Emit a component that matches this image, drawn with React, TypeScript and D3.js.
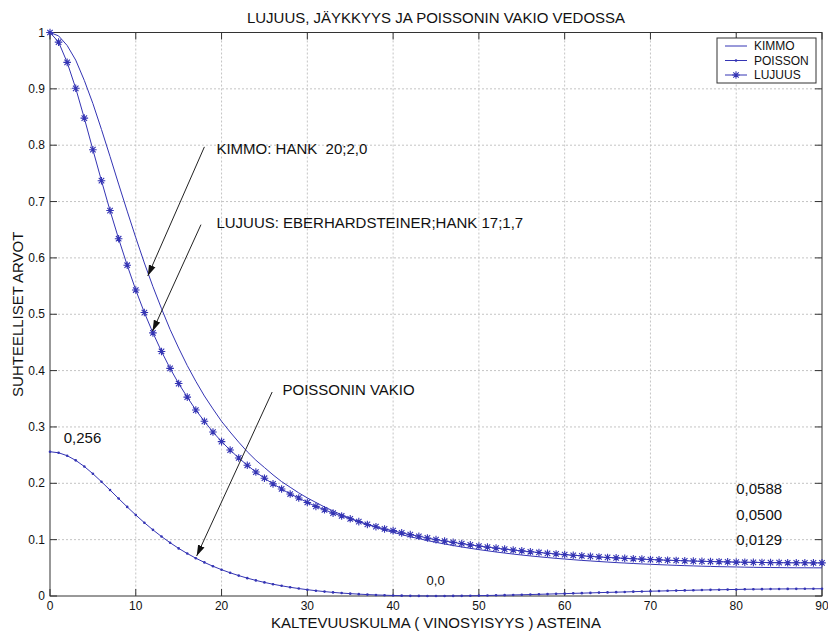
import React from "react";
import * as d3 from "d3";

// Angle of the grain (degrees), one sample per degree
const ANGLES: number[] = d3.range(0, 91);

// Relative stiffness (KIMMO)
const KIMMO: number[] = [
  1.0, 0.994, 0.977, 0.951, 0.915, 0.874, 0.828, 0.78, 0.731, 0.683,
  0.636, 0.591, 0.549, 0.51, 0.473, 0.44, 0.409, 0.381, 0.355, 0.332,
  0.31, 0.291, 0.273, 0.256, 0.241, 0.228, 0.215, 0.203, 0.193, 0.183,
  0.174, 0.166, 0.158, 0.151, 0.144, 0.138, 0.132, 0.127, 0.122, 0.117,
  0.113, 0.109, 0.105, 0.102, 0.0983, 0.0952, 0.0923, 0.0896, 0.087, 0.0846,
  0.0823, 0.0802, 0.0781, 0.0762, 0.0744, 0.0727, 0.0711, 0.0696, 0.0682, 0.0668,
  0.0656, 0.0644, 0.0632, 0.0622, 0.0612, 0.0602, 0.0593, 0.0585, 0.0577, 0.0569,
  0.0563, 0.0556, 0.055, 0.0544, 0.0539, 0.0534, 0.0529, 0.0525, 0.0521, 0.0518,
  0.0515, 0.0512, 0.0509, 0.0507, 0.0505, 0.0504, 0.0502, 0.0501, 0.0501, 0.05,
  0.05,
];

// Relative Poisson's ratio (POISSON)
const POISSON: number[] = [
  0.256, 0.2542, 0.249, 0.2407, 0.2298, 0.217, 0.2028, 0.188, 0.1729, 0.1581,
  0.1438, 0.1301, 0.1174, 0.1055, 0.0946, 0.0845, 0.0754, 0.0671, 0.0596, 0.0528,
  0.0467, 0.0412, 0.0362, 0.0317, 0.0277, 0.0241, 0.0209, 0.0181, 0.0155, 0.0132,
  0.0112, 0.0094, 0.0078, 0.0064, 0.0052, 0.0042, 0.0033, 0.0025, 0.0019, 0.0014,
  0.0009, 0.0006, 0.0003, 0.0002, 0.0001, 0.0, 0.0001, 0.0002, 0.0003, 0.0005,
  0.0007, 0.0009, 0.0012, 0.0015, 0.0019, 0.0022, 0.0026, 0.003, 0.0034, 0.0038,
  0.0042, 0.0047, 0.0051, 0.0055, 0.006, 0.0064, 0.0068, 0.0072, 0.0077, 0.0081,
  0.0085, 0.0088, 0.0092, 0.0096, 0.0099, 0.0103, 0.0106, 0.0109, 0.0111, 0.0114,
  0.0116, 0.0119, 0.0121, 0.0122, 0.0124, 0.0125, 0.0126, 0.0127, 0.0128, 0.0128,
  0.0129,
];

// Relative strength (LUJUUS)
const LUJUUS: number[] = [
  1.0, 0.983, 0.947, 0.901, 0.848, 0.792, 0.737, 0.684, 0.634, 0.587,
  0.543, 0.503, 0.467, 0.434, 0.404, 0.377, 0.353, 0.33, 0.31, 0.291,
  0.274, 0.259, 0.245, 0.232, 0.22, 0.209, 0.199, 0.19, 0.181, 0.174,
  0.166, 0.159, 0.153, 0.147, 0.142, 0.137, 0.132, 0.127, 0.123, 0.119,
  0.116, 0.112, 0.109, 0.106, 0.103, 0.1, 0.0976, 0.0952, 0.0929, 0.0907,
  0.0887, 0.0867, 0.0849, 0.0832, 0.0816, 0.08, 0.0785, 0.0772, 0.0758, 0.0746,
  0.0734, 0.0723, 0.0713, 0.0703, 0.0693, 0.0684, 0.0676, 0.0668, 0.0661, 0.0654,
  0.0647, 0.0641, 0.0635, 0.063, 0.0625, 0.062, 0.0616, 0.0612, 0.0608, 0.0605,
  0.0602, 0.0599, 0.0597, 0.0595, 0.0593, 0.0592, 0.059, 0.0589, 0.0589, 0.0588,
  0.0588,
];

const X_TICKS: number[] = [0, 10, 20, 30, 40, 50, 60, 70, 80, 90];
const Y_TICKS: number[] = [0, 0.1, 0.2, 0.3, 0.4, 0.5, 0.6, 0.7, 0.8, 0.9, 1];
const LEGEND_LABELS: string[] = ["KIMMO", "POISSON", "LUJUUS"];

const TITLE = "LUJUUS, JÄYKKYYS JA POISSONIN VAKIO VEDOSSA";
const X_LABEL = "KALTEVUUSKULMA ( VINOSYISYYS ) ASTEINA";
const Y_LABEL = "SUHTEELLISET ARVOT";

// Annotations: text anchor in data coords and arrow [from, to] in data coords
const ARROW_NOTES = [
  { text: "KIMMO: HANK  20;2,0", tx: 19.4, ty: 0.795, from: [18.0, 0.797], to: [11.4, 0.568] },
  { text: "LUJUUS: EBERHARDSTEINER;HANK 17;1,7", tx: 19.4, ty: 0.662, from: [17.6, 0.659], to: [11.95, 0.47] },
  { text: "POISSONIN VAKIO", tx: 27.1, ty: 0.366, from: [25.9, 0.362], to: [17.1, 0.071] },
];
const VALUE_NOTES = [
  { text: "0,256", tx: 1.6, ty: 0.281, size: 15 },
  { text: "0,0", tx: 43.9, ty: 0.028, size: 13 },
  { text: "0,0588", tx: 80.0, ty: 0.19, size: 15 },
  { text: "0,0500", tx: 80.0, ty: 0.145, size: 15 },
  { text: "0,0129", tx: 80.0, ty: 0.1, size: 15 },
];

const W = 828;
const H = 632;
const FONT = "'Liberation Sans', Arial, Helvetica, sans-serif";
const BLUE = "#3434b4";
const AXIS = "#333333";

function asterisk(r: number) {
  const a = r * 0.72;
  return `M${-r},0H${r}M0,${-r}V${r}M${-a},${-a}L${a},${a}M${-a},${a}L${a},${-a}`;
}

export default function App() {
  const left = 50, right = 822, top = 32.5, bottom = 596;
  const x = d3.scaleLinear().domain([0, 90]).range([left, right]);
  const y = d3.scaleLinear().domain([0, 1]).range([bottom, top]);

  const line = d3
    .line<[number, number]>()
    .x((d) => x(d[0]))
    .y((d) => y(d[1]));

  const kimmoPts = ANGLES.map((a, i) => [a, KIMMO[i]] as [number, number]);
  const poissonPts = ANGLES.map((a, i) => [a, POISSON[i]] as [number, number]);
  const lujuusPts = ANGLES.map((a, i) => [a, LUJUUS[i]] as [number, number]);

  const tickLen = 7;
  const fmtY = (v: number) => (v === 0 ? "0" : v === 1 ? "1" : v.toFixed(1));

  const legX = 717, legY = 38, legW = 99, legH = 45;
  const rowY = [46, 60.5, 75];

  return (
    <svg
      width={W}
      height={H}
      style={{ position: "absolute", left: 0, top: 0, background: "#fff" }}
      fontFamily={FONT}
    >
      <defs>
        <marker
          id="arrowhead"
          markerUnits="userSpaceOnUse"
          markerWidth={12}
          markerHeight={8}
          refX={11}
          refY={4}
          orient="auto"
        >
          <path d="M0,0.5 L11,4 L0,7.5 Z" fill="#111" />
        </marker>
      </defs>
      <rect x={0} y={0} width={W} height={H} fill="#fff" />

      {/* grid */}
      <g stroke="#c4c4c4" strokeWidth={1} strokeDasharray="2,2">
        {X_TICKS.slice(1, -1).map((t) => (
          <line key={"gx" + t} x1={x(t)} x2={x(t)} y1={top} y2={bottom} />
        ))}
        {Y_TICKS.slice(1, -1).map((t) => (
          <line key={"gy" + t} x1={left} x2={right} y1={y(t)} y2={y(t)} />
        ))}
      </g>

      {/* box and ticks */}
      <rect x={left} y={top} width={right - left} height={bottom - top} fill="none" stroke={AXIS} strokeWidth={1} />
      <g stroke={AXIS} strokeWidth={1}>
        {X_TICKS.map((t) => (
          <g key={"tx" + t}>
            <line x1={x(t)} x2={x(t)} y1={bottom} y2={bottom - tickLen} />
            <line x1={x(t)} x2={x(t)} y1={top} y2={top + tickLen} />
          </g>
        ))}
        {Y_TICKS.map((t) => (
          <g key={"ty" + t}>
            <line x1={left} x2={left + tickLen} y1={y(t)} y2={y(t)} />
            <line x1={right} x2={right - tickLen} y1={y(t)} y2={y(t)} />
          </g>
        ))}
      </g>

      {/* tick labels */}
      <g fontSize={12} fill="#111">
        {X_TICKS.map((t) => (
          <text key={"lx" + t} x={x(t)} y={bottom + 14} textAnchor="middle">
            {t}
          </text>
        ))}
        {Y_TICKS.map((t) => (
          <text key={"ly" + t} x={left - 5} y={y(t)} textAnchor="end" dominantBaseline="central">
            {fmtY(t)}
          </text>
        ))}
      </g>

      {/* title and axis labels */}
      <text x={(left + right) / 2} y={23} textAnchor="middle" fontSize={15} fill="#111">
        {TITLE}
      </text>
      <text x={(left + right) / 2} y={628} textAnchor="middle" fontSize={15} fill="#111">
        {X_LABEL}
      </text>
      <text
        transform={`translate(23,${(top + bottom) / 2}) rotate(-90)`}
        textAnchor="middle"
        fontSize={15}
        fill="#111"
      >
        {Y_LABEL}
      </text>

      {/* series */}
      <path d={line(kimmoPts) || ""} fill="none" stroke={BLUE} strokeWidth={1} />
      <path d={line(poissonPts) || ""} fill="none" stroke={BLUE} strokeWidth={1} />
      <path d={line(lujuusPts) || ""} fill="none" stroke={BLUE} strokeWidth={1} />
      <g fill={BLUE}>
        {poissonPts.map((p, i) => (
          <circle key={"pp" + i} cx={x(p[0])} cy={y(p[1])} r={1.3} />
        ))}
      </g>
      <g stroke={BLUE} strokeWidth={1.1} fill="none">
        {lujuusPts.map((p, i) => (
          <path key={"lp" + i} transform={`translate(${x(p[0])},${y(p[1])})`} d={asterisk(3.8)} />
        ))}
      </g>

      {/* annotations */}
      <g fontSize={15} fill="#111">
        {ARROW_NOTES.map((n, i) => (
          <g key={"an" + i}>
            <text x={x(n.tx)} y={y(n.ty)} dominantBaseline="central" style={{ whiteSpace: "pre" }}>
              {n.text}
            </text>
            <line
              x1={x(n.from[0])}
              y1={y(n.from[1])}
              x2={x(n.to[0])}
              y2={y(n.to[1])}
              stroke="#222"
              strokeWidth={1}
              markerEnd="url(#arrowhead)"
            />
          </g>
        ))}
        {VALUE_NOTES.map((n, i) => (
          <text key={"vn" + i} x={x(n.tx)} y={y(n.ty)} dominantBaseline="central" fontSize={n.size}>
            {n.text}
          </text>
        ))}
      </g>

      {/* legend */}
      <rect x={legX} y={legY} width={legW} height={legH} fill="#fff" stroke={AXIS} strokeWidth={1} />
      <g fontSize={12} fill="#111">
        {LEGEND_LABELS.map((lab, i) => (
          <g key={"lg" + i}>
            <line x1={725} x2={747} y1={rowY[i]} y2={rowY[i]} stroke={BLUE} strokeWidth={1} />
            {i === 1 && <circle cx={736} cy={rowY[i]} r={1.3} fill={BLUE} />}
            {i === 2 && (
              <path transform={`translate(736,${rowY[i]})`} d={asterisk(3.8)} stroke={BLUE} strokeWidth={1.1} fill="none" />
            )}
            <text x={754} y={rowY[i]} dominantBaseline="central">
              {lab}
            </text>
          </g>
        ))}
      </g>
    </svg>
  );
}
